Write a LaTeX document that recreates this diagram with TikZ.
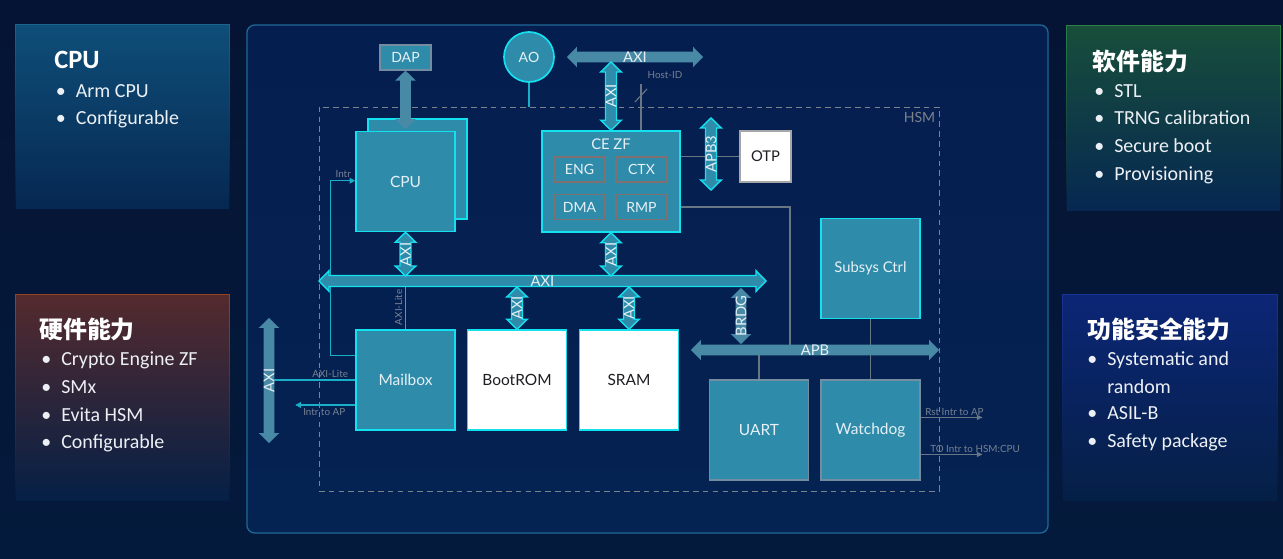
\documentclass[tikz,border=0pt]{standalone}
\usepackage{fontspec}
\setmainfont{Lato}
\newfontfamily\pnlfont{Carlito}
\newfontfamily\cjkfont{Noto Sans CJK SC}
\usetikzlibrary{calc, arrows.meta, positioning, fadings}

\definecolor{bgTop}{RGB}{5,20,52}
\definecolor{bgMid}{RGB}{7,48,95}
\definecolor{bgBot}{RGB}{4,26,60}
\definecolor{boardTop}{RGB}{5,30,80}
\definecolor{boardMid}{RGB}{6,44,98}
\definecolor{boardBot}{RGB}{4,34,82}
\definecolor{boardLn}{RGB}{30,105,150}
\definecolor{tealBox}{RGB}{47,139,170}
\definecolor{grayBus}{RGB}{72,138,165}
\definecolor{cyanLn}{RGB}{20,225,240}
\definecolor{tealLn}{RGB}{25,175,200}
\definecolor{grayLn}{RGB}{105,118,132}
\definecolor{boxGrayLn}{RGB}{115,140,160}
\definecolor{subLn}{RGB}{128,112,112}
\definecolor{hsmGray}{RGB}{125,130,140}
\definecolor{txtLight}{RGB}{230,240,246}
\definecolor{txtDark}{RGB}{30,30,35}
\definecolor{lblGray}{RGB}{120,130,145}
\definecolor{pnlTxt}{RGB}{236,240,245}
\definecolor{pnlFadeA}{RGB}{6,40,82}
\definecolor{pnlFadeB}{RGB}{5,32,70}
\definecolor{cpuTop}{RGB}{14,78,120}
\definecolor{cpuLn}{RGB}{24,100,140}
\definecolor{hwTop}{RGB}{84,42,46}
\definecolor{hwLn}{RGB}{150,66,32}
\definecolor{swTop}{RGB}{24,78,58}
\definecolor{swLn}{RGB}{42,130,72}
\definecolor{sfTop}{RGB}{12,38,118}
\definecolor{sfLn}{RGB}{25,50,150}

\tikzfading[name=pnlfade, top color=transparent!0, middle color=transparent!25, bottom color=transparent!100]

% bus arrow sizes: half shaft, half head, head length
\newcommand{\bsw}{3.9pt}
\newcommand{\bhw}{7.3pt}
\newcommand{\bhl}{7.1pt}
% vertical bus: style, top, bottom, label, label name
\newcommand{\busV}[5]{%
  \path[#1] let \p1=#2, \p2=#3 in
    (\x1,\y1) -- (\x1+\bhw,\y1-\bhl) -- (\x1+\bsw,\y1-\bhl) -- (\x1+\bsw,\y2+\bhl)
    -- (\x1+\bhw,\y2+\bhl) -- (\x1,\y2) -- (\x1-\bhw,\y2+\bhl) -- (\x1-\bsw,\y2+\bhl)
    -- (\x1-\bsw,\y1-\bhl) -- (\x1-\bhw,\y1-\bhl) -- cycle
    (\x1,{0.5*\y1+0.5*\y2}) node[buslbl, rotate=90] (#5) {#4};}
% horizontal bus: style, left, right, label, label name
\newcommand{\busH}[5]{%
  \path[#1] let \p1=#2, \p2=#3 in
    (\x1,\y1) -- (\x1+\bhl,\y1+\bhw) -- (\x1+\bhl,\y1+\bsw) -- (\x2-\bhl,\y1+\bsw)
    -- (\x2-\bhl,\y1+\bhw) -- (\x2,\y1) -- (\x2-\bhl,\y1-\bhw) -- (\x2-\bhl,\y1-\bsw)
    -- (\x1+\bhl,\y1-\bsw) -- (\x1+\bhl,\y1-\bhw) -- cycle
    ({0.5*\x1+0.5*\x2},\y1) node[buslbl] (#5) {#4};}
\newcommand{\pbul}{\makebox[0.5cm][l]{\textbullet}}
\newcommand{\pnob}{\makebox[0.5cm][l]{}}

\tikzset{
  blkT/.style={rectangle, draw=cyanLn, fill=tealBox, line width=1.1pt,
    text=txtLight, font=\fontsize{11}{13}\selectfont,
    minimum width=2.475cm, minimum height=2.5cm, inner sep=0pt},
  blkW/.style={blkT, fill=white, text=txtDark},
  blkG/.style={blkT, draw=boxGrayLn, line width=0.8pt},
  subB/.style={rectangle, draw=subLn, fill=tealBox, line width=1.1pt,
    minimum width=1.275cm, minimum height=0.625cm, inner sep=0pt,
    font=\fontsize{10}{12}\selectfont, text=txtLight},
  busC/.style={fill=tealBox, draw=cyanLn, line width=1pt},
  busG/.style={fill=grayBus},
  buslbl/.style={inner sep=0pt, text=txtLight, font=\fontsize{10.5}{12}\selectfont},
  lbl/.style={inner sep=0pt, text=lblGray, font=\fontsize{7}{8}\selectfont},
  sigT/.style={draw=tealLn, line width=0.9pt},
  sigG/.style={draw=grayLn, line width=0.8pt},
  tipT/.style={-{Triangle[length=4pt,width=4pt]}},
  pnl/.style={rectangle, minimum width=5.325cm, inner sep=0pt},
  pnlEdge/.style={line width=0.8pt, path fading=pnlfade},
  pttl/.style={anchor=base west, inner sep=0pt, text=white,
    font=\pnlfont\bfseries\fontsize{18.8}{21}\selectfont},
  pttlC/.style={pttl, font=\cjkfont\bfseries\fontsize{17}{19}\selectfont},
  pitem/.style={anchor=base west, inner sep=0pt, text=pnlTxt,
    font=\pnlfont\fontsize{14.2}{16}\selectfont},
}

\begin{document}
\begin{tikzpicture}[x=0.025cm, y=-0.025cm]
  \useasboundingbox (0,0) rectangle (1283,559);
  \shade[top color=bgTop, middle color=bgMid, bottom color=bgBot] (0,0) rectangle (1283,559);

  % side panels
  \node[pnl, minimum height=4.575cm, top color=cpuTop, bottom color=pnlFadeA] (cpuPnl) at (122.5,116.5) {};
  \node[pnl, minimum height=5.125cm, top color=hwTop, bottom color=pnlFadeB] (hwPnl) at (122.5,397.5) {};
  \node[pnl, minimum height=4.6cm, top color=swTop, bottom color=pnlFadeA] (swPnl) at (1173.5,118) {};
  \node[pnl, minimum height=5.125cm, minimum width=5.35cm, top color=sfTop, bottom color=pnlFadeB] (sfPnl) at (1170,397.5) {};
  \draw[pnlEdge, draw=cpuLn] (cpuPnl.south west) rectangle (cpuPnl.north east);
  \draw[pnlEdge, draw=hwLn] (hwPnl.south west) rectangle (hwPnl.north east);
  \draw[pnlEdge, draw=swLn] (swPnl.south west) rectangle (swPnl.north east);
  \draw[pnlEdge, draw=sfLn] (sfPnl.south west) rectangle (sfPnl.north east);

  \node[pttl] (cpuTtl) at (54,68) {CPU};
  \node[pttlC] (hwTtl) at (39,338) {硬件能力};
  \node[pttlC] (swTtl) at (1092,70) {软件能力};
  \node[pttlC] (sfTtl) at (1087,338) {功能安全能力};
  \foreach \y/\t [count=\i] in {97.5/Arm CPU, 124.5/Configurable}
    \node[pitem] (cpuIt\i) at (55.6,\y) {\pbul\t};
  \foreach \y/\t [count=\i] in {365.5/Crypto Engine ZF, 393/SMx, 421/Evita HSM, 448.5/Configurable}
    \node[pitem] (hwIt\i) at (41,\y) {\pbul\t};
  \foreach \y/\t [count=\i] in {97.5/STL, 124.5/TRNG calibration, 152.5/Secure boot, 180.5/Provisioning}
    \node[pitem] (swIt\i) at (1094,\y) {\pbul\t};
  \foreach \y/\t [count=\i] in {365.5/\pbul Systematic and, 393.5/\pnob random, 419.5/\pbul ASIL-B, 447.5/\pbul Safety package}
    \node[pitem] (sfIt\i) at (1087,\y) {\t};

  % board and HSM boundary
  \node[rectangle, rounded corners=0.2cm, draw=boardLn, line width=0.9pt,
        top color=boardTop, middle color=boardMid, bottom color=boardBot,
        minimum width=20.025cm, minimum height=12.7cm] (board) at (647.5,279) {};
  \node[rectangle, draw=hsmGray, dash pattern=on 4pt off 3pt, line width=0.6pt,
        minimum width=15.5cm, minimum height=9.6cm] (hsm) at (629,299) {};
  \node[inner sep=0pt, text=hsmGray, font=\fontsize{10}{12}\selectfont, anchor=north east]
        (hsmTxt) at ($(hsm.north east)+(-4,6)$) {HSM};

  % blocks
  \node[rectangle, draw=boxGrayLn, fill=tealBox, line width=0.8pt, minimum width=1.275cm,
        minimum height=0.625cm, inner sep=0pt, text=txtLight, font=\fontsize{10}{12}\selectfont]
        (dap) at (405.5,57.5) {DAP};
  \node[circle, draw=cyanLn, fill=tealBox, line width=1.2pt, minimum size=1.25cm, inner sep=0pt,
        text=txtLight, font=\fontsize{10}{12}\selectfont] (ao) at (529,57) {AO};
  \node[blkT] (cpuback) at (417.5,169) {};
  \node[blkT] (cpu) at (405.5,181.5) {CPU};
  \node[blkT, minimum width=3.45cm, minimum height=2.525cm] (cezf) at (611,181.5) {};
  \node[buslbl, below=0.2cm of cezf.north] (ceTtl) {CE ZF};
  \node[subB] (eng) at (579.5,169.5) {ENG};
  \node[subB] (ctx) at (641.5,169.5) {CTX};
  \node[subB] (dma) at (579.5,207) {DMA};
  \node[subB] (rmp) at (641.5,207) {RMP};
  \node[blkW, draw=gray!70, line width=1.5pt, minimum width=1.275cm, minimum height=1.275cm,
        font=\fontsize{10.5}{12}\selectfont] (otp) at (765.5,156.5) {OTP};
  \node[blkT] (mailbox) at (405.5,380) {Mailbox};
  \node[blkW] (bootrom) at (517,380) {BootROM};
  \node[blkW] (sram) at (629,380) {SRAM};
  \node[blkT, font=\fontsize{10.5}{12}\selectfont] (subsys) at (870.5,268.5) {Subsys Ctrl};
  \node[blkG] (uart) at (759,430) {UART};
  \node[blkG] (watchdog) at (870.5,430) {Watchdog};

  % bus end points
  \coordinate (taxiL) at (567,57);
  \coordinate (taxiR) at (703,57);
  \coordinate (axiL) at (319,281);
  \coordinate (axiR) at (766,281);
  \coordinate (apbL) at (691,350);
  \coordinate (apbR) at (939,350);
  \coordinate (laxiT) at (269,318);
  \coordinate (laxiB) at (269,443);
  \coordinate (apb3T) at (711,118);
  \coordinate (apb3B) at (711,190);
  \coordinate (brdgT) at (741,288);
  \coordinate (hostid) at (641,84);
  \coordinate (apbtap) at (790,350);

  % signal lines
  \draw[sigT] (ao.south) -- (ao.south |- hsm.north);
  \draw[sigT, tipT] ($(mailbox.north west)+(0,26)$) -- ++(-25,0) |- ($(cpu.north west)+(0,50)$);
  \node[lbl] (intrLbl) at ($(cpu.north west)+(-12,43)$) {Intr};
  \draw[sigT] (mailbox.north) -- (mailbox.north |- axiL);
  \node[lbl, rotate=90] (axlV) at ($(mailbox.north)+(-7,-22)$) {AXI-Lite};
  \draw[sigT] (mailbox.west) -- (mailbox.west -| laxiT);
  \node[lbl, anchor=south] (axlH) at ($(mailbox.west)+(-25,-2)$) {AXI-Lite};
  \draw[sigT, tipT] ($(mailbox.west)+(0,25)$) -- ++(-60,0);
  \node[lbl, anchor=north] (intrAP) at ($(mailbox.west)+(-31,28)$) {Intr to AP};
  \draw[sigG] (cezf.east |- otp.west) -- (otp.west);
  \draw[sigG] (cezf.east |- rmp.east) -| (apbtap);
  \draw[sigG] (hostid) -- (hostid |- cezf.north);
  \draw[sigG] ($(hostid)+(-6,18)$) -- ++(12,-13);
  \node[lbl] (hostLbl) at (665,75.5) {Host-ID};
  \draw[sigG] (subsys.south) -- (watchdog.north);
  \draw[sigG] (uart.north) -- (uart.north |- apbL);
  \draw[sigG, -{Triangle[length=4pt,width=3.5pt]}] ($(watchdog.north east)+(0,38)$) -- ++(62,0);
  \node[lbl, anchor=south west] (rstLbl) at (925,416) {Rst Intr to AP};
  \draw[sigG, -{Triangle[length=4pt,width=3.5pt]}] ($(watchdog.north east)+(0,75)$) -- ++(62,0);
  \node[lbl, anchor=south west] (toLbl) at (930,453) {TO Intr to HSM:CPU};

  % buses
  \busH{busG}{(taxiL)}{(taxiR)}{AXI}{taxiLbl}
  \busV{busC}{($(cezf.north |- taxiL)+(0,5)$)}{(cezf.north)}{AXI}{ceUpLbl}
  \busV{busG}{(dap.south)}{($(dap.south |- cpuback.north)+(0,11)$)}{}{dapLbl}
  \busV{busC}{(apb3T)}{(apb3B)}{APB3}{apb3Lbl}
  \busH{busC}{(axiL)}{(axiR)}{AXI}{axiLbl}
  \busV{busC}{(cpu.south)}{($(cpu.south |- axiL)+(0,-5)$)}{AXI}{cpuAxiLbl}
  \busV{busC}{(cezf.south)}{($(cezf.south |- axiL)+(0,-5)$)}{AXI}{ceAxiLbl}
  \busV{busC}{($(bootrom.north |- axiL)+(0,6)$)}{(bootrom.north)}{AXI}{romAxiLbl}
  \busV{busC}{($(sram.north |- axiL)+(0,6)$)}{(sram.north)}{AXI}{ramAxiLbl}
  \busV{busG}{(laxiT)}{(laxiB)}{AXI}{laxiLbl}
  \busV{busG}{(brdgT)}{($(brdgT |- apbL)+(0,-6)$)}{BRDG}{brdgLbl}
  \busH{busG}{(apbL)}{(apbR)}{APB}{apbLbl}
\end{tikzpicture}
\end{document}
